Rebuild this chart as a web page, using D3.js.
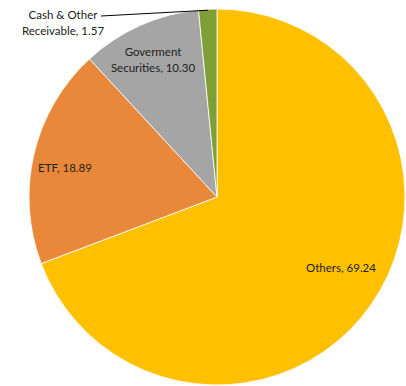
<!DOCTYPE html>
<meta charset="utf-8">
<style>
body { margin: 0; background: #fff; }
text { font-family: Lato, "Open Sans", sans-serif; font-size: 11.5px; fill: #222; }
</style>
<body>
<div id="chart"></div>
<script src="https://cdn.jsdelivr.net/npm/d3@7"></script>
<script>
// data
var labels = ["Others", "ETF", "Goverment Securities", "Cash & Other Receivable"];
var values = [69.24, 18.89, 10.30, 1.57];
var colors = ["#FFC000", "#E9883A", "#A5A5A5", "#7F9F36"];
// label lines (text split as in the chart) and label centres
var labelLines = [["Others, 69.24"], ["ETF, 18.89"], ["Goverment", "Securities, 10.30"], ["Cash & Other", "Receivable, 1.57"]];
var labelPos = [[341, 268], [65, 168], [153, 52], [63, 15]];

var width = 406, height = 386;
var cx = 217, cy = 197, r = 188;

var svg = d3.select("#chart").append("svg")
    .attr("width", width)
    .attr("height", height);

var g = svg.append("g").attr("transform", "translate(" + cx + "," + cy + ")");

var pie = d3.pie().sort(null).value(function(d) { return d; });
var arc = d3.arc().innerRadius(0).outerRadius(r);
var arcs = pie(values);

g.selectAll("path")
    .data(arcs)
    .enter().append("path")
    .attr("d", arc)
    .attr("fill", function(d, i) { return colors[i]; })
    .attr("stroke", "#fff")
    .attr("stroke-width", 0.8);

// leader line for small slice
var small = arcs[3];
var mid = (small.startAngle + small.endAngle) / 2;
var edge = [cx + Math.sin(mid) * r, cy - Math.cos(mid) * r];
svg.append("line")
    .attr("x1", 101).attr("y1", 16)
    .attr("x2", edge[0]).attr("y2", edge[1] + 1)
    .attr("stroke", "#000")
    .attr("stroke-width", 1);

// labels
labelLines.forEach(function(lines, i) {
    var t = svg.append("text")
        .attr("text-anchor", "middle")
        .attr("x", labelPos[i][0])
        .attr("y", labelPos[i][1]);
    lines.forEach(function(s, j) {
        t.append("tspan")
            .attr("x", labelPos[i][0])
            .attr("dy", j == 0 ? "0.35em" : 15.5)
            .text(s);
    });
});
</script>
</body>
